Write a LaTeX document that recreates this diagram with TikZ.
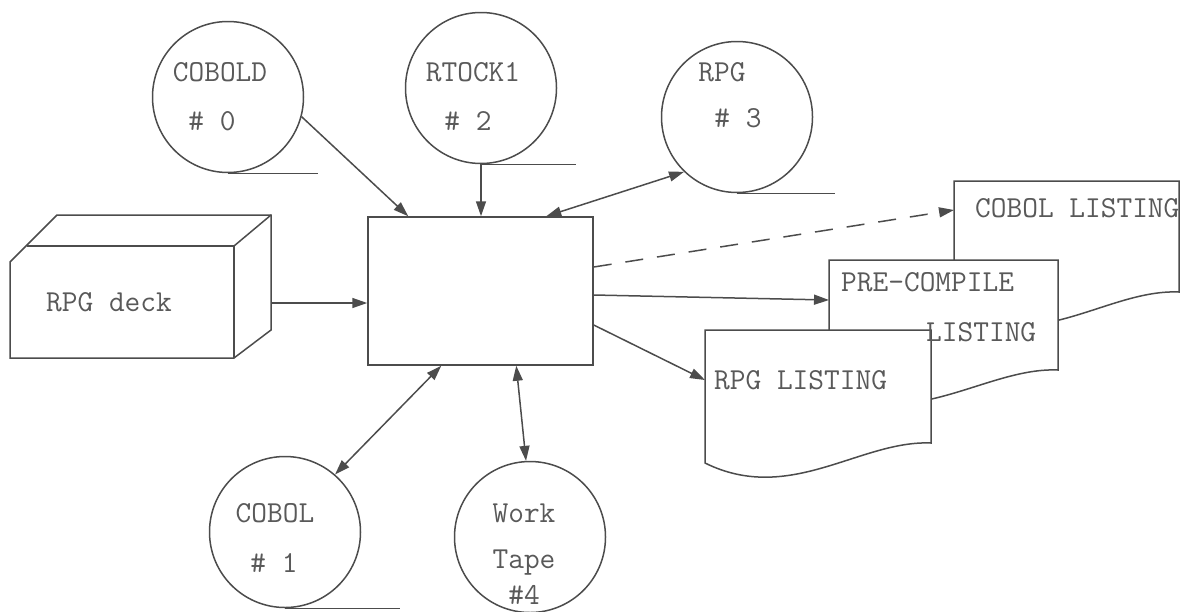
\documentclass[tikz,border=0pt]{standalone}
\usetikzlibrary{arrows.meta,calc}

\begin{document}
\begin{tikzpicture}[
    x=1pt, y=-1pt,
    line/.style={draw=black!70, line width=1.5pt},
    tape/.style={circle, line, minimum size=151pt, inner sep=0pt},
    unit/.style={rectangle, line, minimum width=225pt, minimum height=148pt},
    txt/.style={text=black!65, font=\ttfamily\fontsize{30.5}{34}\selectfont, inner sep=0pt},
    arr/.style={line, -{Triangle[length=15pt,width=10pt]}},
    both/.style={line, {Triangle[length=15pt,width=10pt]}-{Triangle[length=15pt,width=10pt]}}
]
\useasboundingbox (0,0) rectangle (1190,611);

% tapes
\node[tape] (cobold) at (228,97) {};
\node[tape] (rtock) at (481,88) {};
\node[tape] (rpg) at (737,117) {};
\node[tape] (cobol) at (285,532) {};
\node[tape] (work) at (530,537) {};
\draw[line] (cobold.south) -- ++(90,0);
\draw[line] (rtock.south) -- ++(95,0);
\draw[line] (rpg.south) -- ++(98,0);
\draw[line] (cobol.south) -- ++(115,0);

\node[txt] at (220,72) {COBOLD};
\node[txt] at (212,121) {\# 0};
\node[txt] at (473,72) {RTOCK1};
\node[txt] at (468,121) {\# 2};
\node[txt] at (722,72) {RPG};
\node[txt] at (738,118) {\# 3};
\node[txt] at (275,513) {COBOL};
\node[txt] at (274,563) {\# 1};
\node[txt] at (524,513) {Work};
\node[txt] at (524,563) {Tape};
\node[txt] at (524,595) {\#4};

% card deck
\draw[line] (10,358) -- (10,262) -- (57,215) -- (271,215) -- (271,330) -- (234,358) -- cycle;
\draw[line] (27,246) -- (234,246) -- (234,358);
\draw[line] (234,246) -- (271,215);
\node[txt] at (109,302) {RPG deck};
\coordinate (deck) at (271,303);

% processor
\node[unit] (cpu) at (480.5,291) {};

% listings
\draw[line, fill=white] (954,181) -- ++(225,0) -- ++(0,111) .. controls +(-71,-3) and +(85,42) .. ++(-225,20) -- cycle;
\draw[line, fill=white] (829,260) -- ++(229,0) -- ++(0,110) .. controls +(-71,-3) and +(85,42) .. ++(-229,20) -- cycle;
\draw[line, fill=white] (705,330) -- ++(226,0) -- ++(0,113) .. controls +(-71,-3) and +(85,42) .. ++(-226,20) -- cycle;
\node[txt, anchor=west] at (975,208) {COBOL LISTING};
\node[txt, anchor=west] at (841,282) {PRE-COMPILE};
\node[txt, anchor=west] at (926,332) {LISTING};
\node[txt, anchor=west] at (714,380) {RPG LISTING};
\coordinate (cobIn) at (954,210);
\coordinate (preIn) at (829,300);
\coordinate (rpgIn) at (705,380);

% connectors
\draw[arr] (cobold.-15) -- ([xshift=41pt]cpu.north west);
\draw[arr] (rtock.south) -- (rtock.south |- cpu.north);
\draw[both] ([xshift=179pt]cpu.north west) -- (rpg.226);
\draw[arr] (deck) -- (deck -| cpu.west);
\draw[both] ([xshift=74pt]cpu.south west) -- (cobol.49);
\draw[both] ([xshift=149pt]cpu.south west) -- (work.93);
\draw[arr, dash pattern=on 18pt off 14pt] ([yshift=24pt]cpu.east) -- (cobIn);
\draw[arr] ([yshift=-4pt]cpu.east) -- (preIn);
\draw[arr] ([yshift=-34pt]cpu.east) -- (rpgIn);

\end{tikzpicture}
\end{document}
